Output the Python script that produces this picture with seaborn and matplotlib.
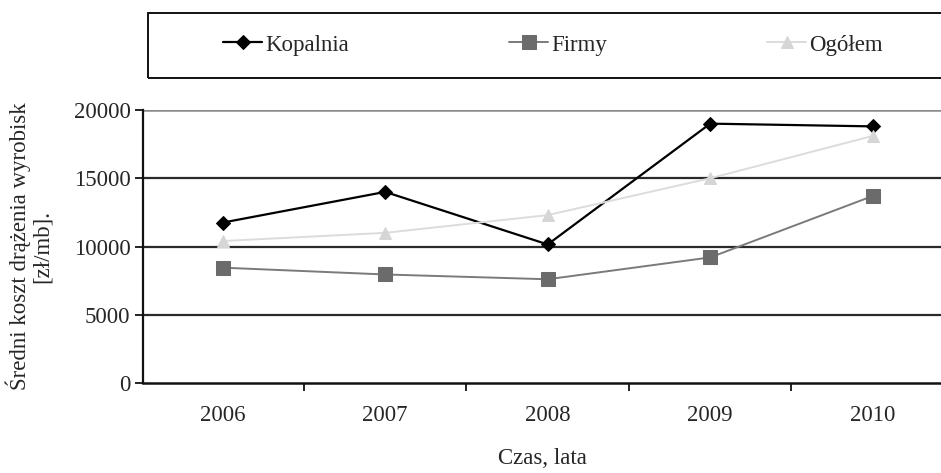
import numpy as np
import pandas as pd
import matplotlib
matplotlib.use("Agg")
import matplotlib.pyplot as plt
from matplotlib.patches import Rectangle
from matplotlib.ticker import FixedLocator, NullFormatter
import seaborn as sns

# Data
years = ['2006', '2007', '2008', '2009', '2010']
kopalnia = [11750, 14000, 10150, 19000, 18800]
firmy = [8450, 7950, 7600, 9200, 13700]
ogolem = [10400, 11000, 12300, 15000, 18100]
series_names = ['Kopalnia', 'Firmy', 'Ogółem']

sns.set_theme(style="white")
plt.rcParams['font.family'] = ['Liberation Serif', 'DejaVu Serif']
FS = 16.5

df = pd.DataFrame({
    'pos': list(range(len(years))) * 3,
    'value': kopalnia + firmy + ogolem,
    'series': np.repeat(series_names, len(years)),
})

palette = {'Kopalnia': '#000000', 'Firmy': '#7a7a7a', 'Ogółem': '#dcdcdc'}
markers = {'Kopalnia': 'D', 'Firmy': 's', 'Ogółem': '^'}
mcolors = {'Kopalnia': '#000000', 'Firmy': '#6b6b6b', 'Ogółem': '#d6d6d6'}
msizes = {'Kopalnia': 7, 'Firmy': 10, 'Ogółem': 9}

fig = plt.figure(figsize=(9.41, 4.73), dpi=100)
ax = fig.add_axes([143 / 941, 1 - 383 / 473, 798 / 941, 273 / 473])

# grid lines drawn first so the series sit on top
for yv in [5000, 10000, 15000]:
    ax.axhline(yv, color='#2a2a2a', lw=1.6, zorder=1)
ax.axhline(20000, color='#8a8a8a', lw=1.8, zorder=1)

for name in series_names:
    sub = df[df['series'] == name]
    sns.lineplot(data=sub, x='pos', y='value', ax=ax, color=palette[name],
                 lw=1.6 if name == 'Kopalnia' else 1.4,
                 marker=markers[name], markersize=msizes[name],
                 markerfacecolor=mcolors[name], markeredgecolor=mcolors[name],
                 label=name, zorder=3, legend=False)

ax.set_xlim(-0.49, 4.42)
ax.set_ylim(0, 20000)
ax.set_yticks([0, 5000, 10000, 15000, 20000])
ax.set_yticklabels(['0', '5000', '10000', '15000', '20000'])

# year labels between the tick marks, tick marks on category boundaries
ax.xaxis.set_major_locator(FixedLocator(np.arange(-0.5, 5.0, 1.0)))
ax.xaxis.set_major_formatter(NullFormatter())
ax.xaxis.set_minor_locator(FixedLocator(np.arange(len(years))))
ax.set_xticklabels(years, minor=True)
ax.tick_params(axis='x', which='major', direction='out', length=6, width=1.4,
               color='#222222', bottom=True)
ax.tick_params(axis='x', which='minor', length=0, pad=16, labelsize=FS)
ax.tick_params(axis='y', direction='out', length=6, width=1.4, color='#222222',
               left=True, pad=3, labelsize=FS)

for s in ['top', 'right']:
    ax.spines[s].set_visible(False)
ax.spines['left'].set_color('#111111')
ax.spines['left'].set_linewidth(1.6)
ax.spines['bottom'].set_color('#111111')
ax.spines['bottom'].set_linewidth(1.8)

ax.set_xlabel('Czas, lata', fontsize=FS, labelpad=16)
ax.set_ylabel('Średni koszt drążenia wyrobisk\n[zł/mb].', fontsize=FS,
              labelpad=15, linespacing=1.05)

# legend box at the top, running off the right edge
fig.patches.append(Rectangle((148 / 941, 1 - 78 / 473), 0.9, 65 / 473,
                             transform=fig.transFigure, fill=False,
                             edgecolor='#111111', lw=1.4))
handles, labels = ax.get_legend_handles_labels()
fig.legend(handles, labels, loc='center left',
           bbox_to_anchor=(212 / 941, 1 - 45 / 473), ncol=3, frameon=False,
           borderpad=0, handlelength=1.7, handletextpad=0.12,
           columnspacing=7.0, fontsize=FS)

fig.savefig('out.png', dpi=100, facecolor='white')
